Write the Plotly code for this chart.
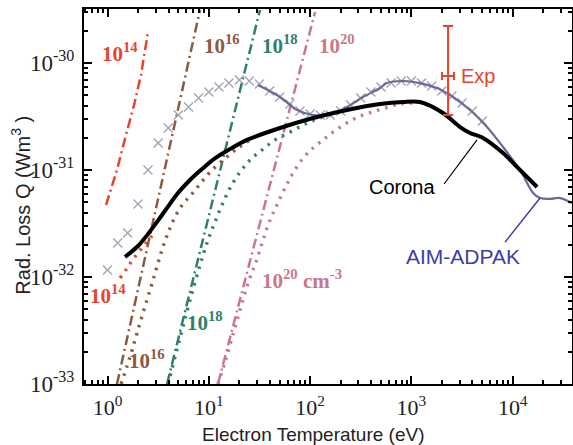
import plotly.graph_objects as go

# ---------------- data ----------------
corona_T = [1.49, 2.0, 2.51, 3.08, 3.87, 4.96, 6.52, 8.57, 11.3, 16.2, 23.8, 50.5, 107, 231, 490,
            826, 1215, 2050, 3020, 3790, 5090, 8020, 11800, 17400]
corona_Q = [1.54e-32, 1.95e-32, 2.52e-32, 3.27e-32, 4.42e-32, 6.1e-32, 8.07e-32, 1.02e-31,
            1.27e-31, 1.57e-31, 1.91e-31, 2.47e-31, 3.06e-31, 3.64e-31, 4.14e-31, 4.32e-31,
            4.32e-31, 3.41e-31, 2.52e-31, 2.22e-31, 1.99e-31, 1.44e-31, 1.0e-31, 6.94e-32]

aim_T = [30.6, 50.5, 74.3, 107, 157, 231, 333, 490, 574, 826, 1215, 1785, 2575, 3790, 5570,
         8020, 11800, 15900, 18600, 23400, 29300, 38500]
aim_Q = [6.23e-31, 4.81e-31, 3.64e-31, 3.27e-31, 3.27e-31, 3.88e-31, 4.81e-31, 5.84e-31,
         6.5e-31, 6.79e-31, 6.5e-31, 5.84e-31, 4.81e-31, 3.64e-31, 2.52e-31, 1.64e-31,
         1.0e-31, 6.1e-32, 5.47e-32, 5.37e-32, 5.47e-32, 4.91e-32]

cross_T = [1.0, 1.26, 1.58, 2.0, 2.51, 3.16, 3.98, 5.01, 6.31, 7.94, 10, 12.6, 15.8, 20, 25.1,
           31.6, 39.8, 50.1, 63.1, 79.4, 100, 126, 158, 200, 251, 316, 398, 501, 631, 794,
           1000, 1259, 1585, 1995, 2512, 3162, 3981, 5012]
cross_Q = [1.16e-32, 2.08e-32, 2.58e-32, 4.81e-32, 1.0e-31, 1.79e-31, 2.47e-31, 3.27e-31,
           3.88e-31, 4.71e-31, 5.36e-31, 5.97e-31, 6.5e-31, 6.94e-31, 6.79e-31, 6.37e-31,
           5.47e-31, 4.81e-31, 4.14e-31, 3.56e-31, 3.34e-31, 3.27e-31, 3.27e-31, 3.56e-31,
           4.05e-31, 4.71e-31, 5.36e-31, 5.97e-31, 6.5e-31, 6.79e-31, 6.79e-31, 6.5e-31,
           6.1e-31, 5.47e-31, 4.92e-31, 4.23e-31, 3.56e-31, 2.87e-31]

# dash-dot curves (per density)
dd14_T = [0.967, 1.24, 1.52, 1.83, 2.14, 2.51]
dd14_Q = [4.71e-32, 1.0e-31, 2.12e-31, 4.05e-31, 7.73e-31, 1.95e-30]
dd16_T = [1.24, 8.19]
dd16_Q = [1.0e-33, 3.13e-30]
dd18_T = [3.87, 32.0]
dd18_Q = [1.0e-33, 3.13e-30]
dd20_T = [12.3, 112]
dd20_Q = [1.0e-33, 3.0e-30]

# dotted curves (per density)
dot14_T = [1.33, 1.56, 1.79, 2.19, 2.75]
dot14_Q = [9.8e-33, 1.21e-32, 1.47e-32, 1.87e-32, 2.42e-32]
dot16_T = [1.36, 1.56, 1.75, 1.96, 2.24, 2.63, 3.01, 3.45, 3.96, 4.64, 5.56, 6.82, 8.19, 10.3,
           13.5, 18.2, 25.5]
dot16_Q = [1.0e-33, 1.47e-33, 2.08e-33, 3.0e-33, 4.61e-33, 7.57e-33, 1.16e-32, 1.79e-32,
           2.58e-32, 3.64e-32, 4.81e-32, 5.97e-32, 7.4e-32, 9.57e-32, 1.21e-31, 1.54e-31, 1.91e-31]
dot18_T = [3.96, 4.64, 5.44, 6.52, 8.19, 9.82, 11.5, 13.5, 16.2, 20.3, 25.5, 33.5, 45.0, 63.2,
           88.9, 125, 197]
dot18_Q = [1.0e-33, 1.79e-33, 3.2e-33, 6.1e-33, 1.29e-32, 2.22e-32, 3.27e-32, 4.71e-32,
           6.79e-32, 9.57e-32, 1.24e-31, 1.54e-31, 1.91e-31, 2.26e-31, 2.69e-31, 3.06e-31, 3.48e-31]
dot20_T = [12.3, 14.5, 16.9, 20.3, 24.4, 29.2, 34.3, 40.2, 47.1, 56.5, 67.8, 85.1, 107, 134,
           168, 221, 297, 408, 549, 771, 1084]
dot20_Q = [1.0e-33, 1.61e-33, 2.69e-33, 4.92e-33, 8.8e-33, 1.38e-32, 2.22e-32, 3.41e-32,
           4.71e-32, 6.79e-32, 9.37e-32, 1.29e-31, 1.61e-31, 1.91e-31, 2.26e-31, 2.69e-31,
           3.13e-31, 3.48e-31, 3.79e-31, 4.14e-31, 4.23e-31]

# experimental point with error bars
exp_T = [2300]
exp_Q = [7.56e-31]
exp_Q_hi = [2.22e-30]
exp_Q_lo = [3.27e-31]
exp_T_lo = [2005]
exp_T_hi = [2630]

# label pointer lines (label end -> curve)
corona_ptr_T = [2100, 4440]
corona_ptr_Q = [7.4e-32, 1.91e-31]
aim_ptr_T = [8400, 18600]
aim_ptr_Q = [2.12e-32, 5.47e-32]

x_tickvals = [1, 10, 100, 1000, 10000]
x_ticktext = ["10<sup>0</sup>", "10<sup>1</sup>", "10<sup>2</sup>", "10<sup>3</sup>", "10<sup>4</sup>"]
y_tickvals = [1e-33, 1e-32, 1e-31, 1e-30]
y_ticktext = ["10<sup>-33</sup>", "10<sup>-32</sup>", "10<sup>-31</sup>", "10<sup>-30</sup>"]

# ---------------- styles ----------------
RED = "#e8432e"
BROWN = "#8c5a3e"
TEAL = "#2f7f6b"
PINK = "#c8788a"
AIMC = "#6a6a98"
AIML = "#3d3da6"
GREY = "#a3a3b8"

DASHDOT = "10px,4px,2px,4px"
DOTTED = "2.5px,6px"

fig = go.Figure()

for T, Q, c in [(dd14_T, dd14_Q, RED), (dd16_T, dd16_Q, BROWN),
                (dd18_T, dd18_Q, TEAL), (dd20_T, dd20_Q, PINK)]:
    fig.add_trace(go.Scatter(x=T, y=Q, mode="lines", line=dict(color=c, width=2.5, dash=DASHDOT),
                             showlegend=False, hoverinfo="skip"))

for T, Q, c in [(dot14_T, dot14_Q, RED), (dot16_T, dot16_Q, BROWN),
                (dot18_T, dot18_Q, TEAL), (dot20_T, dot20_Q, PINK)]:
    fig.add_trace(go.Scatter(x=T, y=Q, mode="lines",
                             line=dict(color=c, width=3.4, dash=DOTTED, shape="spline"),
                             showlegend=False, hoverinfo="skip"))

fig.add_trace(go.Scatter(x=cross_T, y=cross_Q, mode="markers",
                         marker=dict(symbol="x-thin", size=9, line=dict(width=1.4, color=GREY)),
                         showlegend=False))

fig.add_trace(go.Scatter(x=aim_T, y=aim_Q, mode="lines", line=dict(color=AIMC, width=2.2, shape="spline"),
                         showlegend=False))

fig.add_trace(go.Scatter(x=corona_T, y=corona_Q, mode="lines",
                         line=dict(color="black", width=4, shape="spline", smoothing=0.8),
                         showlegend=False))

fig.add_trace(go.Scatter(x=corona_ptr_T, y=corona_ptr_Q, mode="lines",
                         line=dict(color="black", width=1.2), showlegend=False, hoverinfo="skip"))
fig.add_trace(go.Scatter(x=aim_ptr_T, y=aim_ptr_Q, mode="lines",
                         line=dict(color=AIML, width=1.5), showlegend=False, hoverinfo="skip"))

fig.add_trace(go.Scatter(
    x=exp_T, y=exp_Q, mode="markers", marker=dict(size=1, color=RED), showlegend=False,
    error_y=dict(type="data", symmetric=False,
                 array=[h - q for h, q in zip(exp_Q_hi, exp_Q)],
                 arrayminus=[q - l for l, q in zip(exp_Q_lo, exp_Q)],
                 color=RED, thickness=2, width=5),
    error_x=dict(type="data", symmetric=False,
                 array=[h - t for h, t in zip(exp_T_hi, exp_T)],
                 arrayminus=[t - l for l, t in zip(exp_T_lo, exp_T)],
                 color=RED, thickness=2, width=4),
))

minor_vals = [m * 10 ** e for e in range(-1, 5) for m in range(2, 10)]
minor_y = [m * 10.0 ** e for e in range(-34, -29) for m in range(2, 10)]

SERIF = "Liberation Serif, Times New Roman, serif"
SANS = "Liberation Sans, Arial, sans-serif"

fig.update_layout(
    width=573, height=445,
    margin=dict(l=84, r=1, t=9, b=61, autoexpand=False),
    paper_bgcolor="white", plot_bgcolor="white",
    xaxis=dict(type="log", range=[-0.232, 4.585], showgrid=False, zeroline=False,
               showline=True, linecolor="black", linewidth=2, mirror="ticks",
               ticks="inside", ticklen=8, tickwidth=2, tickcolor="black",
               tickvals=x_tickvals, ticktext=x_ticktext,
               tickfont=dict(family=SERIF, size=22, color="#222"),
               minor=dict(tickvals=minor_vals, ticks="inside", ticklen=4, tickwidth=1.5,
                          tickcolor="black", showgrid=False),
               ticklabelstandoff=3, automargin=False),
    yaxis=dict(type="log", range=[-33, -29.495], showgrid=False, zeroline=False,
               showline=True, linecolor="black", linewidth=2, mirror="ticks",
               ticks="inside", ticklen=8, tickwidth=2, tickcolor="black",
               tickvals=y_tickvals, ticktext=y_ticktext,
               tickfont=dict(family=SERIF, size=23, color="#222"),
               minor=dict(tickvals=minor_y, ticks="inside", ticklen=4, tickwidth=1.5,
                          tickcolor="black", showgrid=False),
               ticklabelstandoff=3, automargin=False),
)

ann = []
def lab(text, lx, ly, color, size=21, family=SERIF, bold=True):
    t = "<b>" + text + "</b>" if bold else text
    ann.append(dict(x=lx, y=ly, xref="x", yref="y", text=t, showarrow=False,
                    font=dict(family=family, size=size, color=color), xanchor="center", yanchor="middle"))

lab("10<sup>14</sup>", 0.123, -29.90, RED)
lab("10<sup>16</sup>", 1.130, -29.83, BROWN)
lab("10<sup>18</sup>", 1.703, -29.83, TEAL)
lab("10<sup>20</sup>", 2.265, -29.83, PINK)
lab("10<sup>14</sup>", 0.005, -32.16, RED)
lab("10<sup>16</sup>", 0.391, -32.77, BROWN)
lab("10<sup>18</sup>", 0.962, -32.42, TEAL)
lab("10<sup>20</sup> cm<sup>-3</sup>", 1.920, -32.02, PINK)
lab("Corona", 2.907, -31.16, "black", size=20, family=SANS, bold=False)
lab("AIM-ADPAK", 3.512, -31.81, AIML, size=21, family=SANS, bold=False)
lab("Exp", 3.660, -30.12, RED, size=20, family=SANS, bold=False)

# axis titles
ann.append(dict(x=0.469, y=-0.135, xref="paper", yref="paper", text="Electron Temperature (eV)",
                showarrow=False, xanchor="center", yanchor="middle",
                font=dict(family=SANS, size=19, color="#222")))
ann.append(dict(x=-0.130, y=0.477, xref="paper", yref="paper", text="Rad. Loss Q (Wm<sup>3</sup> )",
                showarrow=False, xanchor="center", yanchor="middle", textangle=-90,
                font=dict(family=SANS, size=20, color="#222")))
fig.update_layout(annotations=ann)

fig.write_html("out.html", config={"displayModeBar": False},
               post_script="document.body.style.margin='0';document.body.style.overflow='hidden';")
